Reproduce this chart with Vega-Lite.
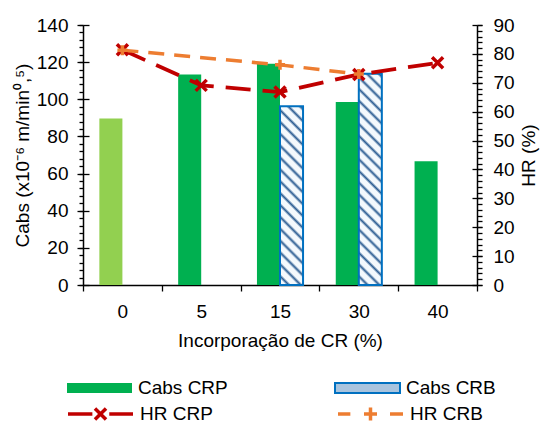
{
  "$schema": "https://vega.github.io/schema/vega-lite/v6.json",
  "width": 394,
  "height": 260,
  "autosize": "none",
  "padding": {"left": 83, "top": 25, "right": 66, "bottom": 139},
  "background": "white",
  "datasets": {
    "bars": [
      {"cat": 0, "serie": "Cabs CRP", "cabs": 89.7},
      {"cat": 5, "serie": "Cabs CRP", "cabs": 113.4},
      {"cat": 15, "serie": "Cabs CRP", "cabs": 119.1},
      {"cat": 15, "serie": "Cabs CRB", "cabs": 96.2},
      {"cat": 30, "serie": "Cabs CRP", "cabs": 98.5},
      {"cat": 30, "serie": "Cabs CRB", "cabs": 113.7},
      {"cat": 40, "serie": "Cabs CRP", "cabs": 66.6}
    ],
    "hr": [
      {"cat": 0, "serie": "HR CRP", "hr": 81.4},
      {"cat": 5, "serie": "HR CRP", "hr": 69.1},
      {"cat": 15, "serie": "HR CRP", "hr": 66.8},
      {"cat": 30, "serie": "HR CRP", "hr": 72.9},
      {"cat": 40, "serie": "HR CRP", "hr": 76.9},
      {"cat": 0, "serie": "HR CRB", "hr": 81.3},
      {"cat": 15, "serie": "HR CRB", "hr": 76.2},
      {"cat": 30, "serie": "HR CRB", "hr": 73.0}
    ]
  },
  "encoding": {
    "x": {
      "field": "cat",
      "type": "ordinal",
      "scale": {"domain": [0, 5, 15, 30, 40], "paddingInner": 0, "paddingOuter": 0},
      "axis": {
        "title": "Incorporação de CR (%)",
        "tickBand": "extent",
        "tickSize": 6,
        "labelPadding": 11,
        "titlePadding": 10,
        "labelAngle": 0
      }
    }
  },
  "layer": [
    {
      "data": {"name": "bars"},
      "mark": {"type": "bar", "strokeWidth": 2},
      "encoding": {
        "xOffset": {"field": "serie", "type": "nominal", "scale": {"domain": ["Cabs CRP", "Cabs CRB"], "paddingOuter": 0.71, "paddingInner": 0}},
        "y": {
          "field": "cabs",
          "type": "quantitative",
          "scale": {"domain": [0, 140], "nice": false},
          "axis": {"orient": "left", "values": [0, 20, 40, 60, 80, 100, 120, 140], "tickSize": 6, "labelPadding": 9, "title": "Cabs (x10⁻⁶ m/min⁰,⁵)", "titlePadding": 4}
        },
        "fill": {
          "field": "serie",
          "type": "nominal",
          "scale": {"domain": ["Cabs CRP", "Cabs CRB"], "range": ["#00B050", "#A9C4DE"]},
          "legend": {
            "title": null,
            "orient": "none",
            "direction": "horizontal",
            "legendX": -17,
            "legendY": 353,
            "columns": 2,
            "symbolType": "M-1,-0.155H1V0.155H-1Z",
            "symbolSize": 4225,
            "symbolStrokeWidth": 2,
            "clipHeight": 20,
            "columnPadding": 106,
            "labelOffset": 5,
            "labelFont": "Liberation Sans",
            "labelFontSize": 19,
            "labelColor": "#000000"
          },
          "condition": [
            {"test": "datum.cat === 0", "value": "#92D050"},
            {"test": "datum.serie === 'Cabs CRB' && datum.cat === 15", "value": {"gradient": "linear", "x1": 0, "y1": 1, "x2": 0.1433, "y2": -0.1105, "stops": [
              {"offset": 0, "color": "#F4F9FD"}, {"offset": 0.0294, "color": "#F4F9FD"}, {"offset": 0.0441, "color": "#2B5C92"},
              {"offset": 0.0588, "color": "#F4F9FD"}, {"offset": 0.0882, "color": "#F4F9FD"}, {"offset": 0.1029, "color": "#2B5C92"},
              {"offset": 0.1176, "color": "#F4F9FD"}, {"offset": 0.1471, "color": "#F4F9FD"}, {"offset": 0.1618, "color": "#2B5C92"},
              {"offset": 0.1765, "color": "#F4F9FD"}, {"offset": 0.2059, "color": "#F4F9FD"}, {"offset": 0.2206, "color": "#2B5C92"},
              {"offset": 0.2353, "color": "#F4F9FD"}, {"offset": 0.2647, "color": "#F4F9FD"}, {"offset": 0.2794, "color": "#2B5C92"},
              {"offset": 0.2941, "color": "#F4F9FD"}, {"offset": 0.3235, "color": "#F4F9FD"}, {"offset": 0.3382, "color": "#2B5C92"},
              {"offset": 0.3529, "color": "#F4F9FD"}, {"offset": 0.3824, "color": "#F4F9FD"}, {"offset": 0.3971, "color": "#2B5C92"},
              {"offset": 0.4118, "color": "#F4F9FD"}, {"offset": 0.4412, "color": "#F4F9FD"}, {"offset": 0.4559, "color": "#2B5C92"},
              {"offset": 0.4706, "color": "#F4F9FD"}, {"offset": 0.5, "color": "#F4F9FD"}, {"offset": 0.5147, "color": "#2B5C92"},
              {"offset": 0.5294, "color": "#F4F9FD"}, {"offset": 0.5588, "color": "#F4F9FD"}, {"offset": 0.5735, "color": "#2B5C92"},
              {"offset": 0.5882, "color": "#F4F9FD"}, {"offset": 0.6176, "color": "#F4F9FD"}, {"offset": 0.6324, "color": "#2B5C92"},
              {"offset": 0.6471, "color": "#F4F9FD"}, {"offset": 0.6765, "color": "#F4F9FD"}, {"offset": 0.6912, "color": "#2B5C92"},
              {"offset": 0.7059, "color": "#F4F9FD"}, {"offset": 0.7353, "color": "#F4F9FD"}, {"offset": 0.75, "color": "#2B5C92"},
              {"offset": 0.7647, "color": "#F4F9FD"}, {"offset": 0.7941, "color": "#F4F9FD"}, {"offset": 0.8088, "color": "#2B5C92"},
              {"offset": 0.8235, "color": "#F4F9FD"}, {"offset": 0.8529, "color": "#F4F9FD"}, {"offset": 0.8676, "color": "#2B5C92"},
              {"offset": 0.8824, "color": "#F4F9FD"}, {"offset": 0.9118, "color": "#F4F9FD"}, {"offset": 0.9265, "color": "#2B5C92"},
              {"offset": 0.9412, "color": "#F4F9FD"}, {"offset": 0.9706, "color": "#F4F9FD"}, {"offset": 0.9853, "color": "#2B5C92"},
              {"offset": 1, "color": "#F4F9FD"}
            ]}},
            {"test": "datum.serie === 'Cabs CRB' && datum.cat === 30", "value": {"gradient": "linear", "x1": 0, "y1": 1, "x2": 0.119, "y2": -0.0957, "stops": [
              {"offset": 0, "color": "#F4F9FD"}, {"offset": 0.025, "color": "#F4F9FD"}, {"offset": 0.0375, "color": "#2B5C92"},
              {"offset": 0.05, "color": "#F4F9FD"}, {"offset": 0.075, "color": "#F4F9FD"}, {"offset": 0.0875, "color": "#2B5C92"},
              {"offset": 0.1, "color": "#F4F9FD"}, {"offset": 0.125, "color": "#F4F9FD"}, {"offset": 0.1375, "color": "#2B5C92"},
              {"offset": 0.15, "color": "#F4F9FD"}, {"offset": 0.175, "color": "#F4F9FD"}, {"offset": 0.1875, "color": "#2B5C92"},
              {"offset": 0.2, "color": "#F4F9FD"}, {"offset": 0.225, "color": "#F4F9FD"}, {"offset": 0.2375, "color": "#2B5C92"},
              {"offset": 0.25, "color": "#F4F9FD"}, {"offset": 0.275, "color": "#F4F9FD"}, {"offset": 0.2875, "color": "#2B5C92"},
              {"offset": 0.3, "color": "#F4F9FD"}, {"offset": 0.325, "color": "#F4F9FD"}, {"offset": 0.3375, "color": "#2B5C92"},
              {"offset": 0.35, "color": "#F4F9FD"}, {"offset": 0.375, "color": "#F4F9FD"}, {"offset": 0.3875, "color": "#2B5C92"},
              {"offset": 0.4, "color": "#F4F9FD"}, {"offset": 0.425, "color": "#F4F9FD"}, {"offset": 0.4375, "color": "#2B5C92"},
              {"offset": 0.45, "color": "#F4F9FD"}, {"offset": 0.475, "color": "#F4F9FD"}, {"offset": 0.4875, "color": "#2B5C92"},
              {"offset": 0.5, "color": "#F4F9FD"}, {"offset": 0.525, "color": "#F4F9FD"}, {"offset": 0.5375, "color": "#2B5C92"},
              {"offset": 0.55, "color": "#F4F9FD"}, {"offset": 0.575, "color": "#F4F9FD"}, {"offset": 0.5875, "color": "#2B5C92"},
              {"offset": 0.6, "color": "#F4F9FD"}, {"offset": 0.625, "color": "#F4F9FD"}, {"offset": 0.6375, "color": "#2B5C92"},
              {"offset": 0.65, "color": "#F4F9FD"}, {"offset": 0.675, "color": "#F4F9FD"}, {"offset": 0.6875, "color": "#2B5C92"},
              {"offset": 0.7, "color": "#F4F9FD"}, {"offset": 0.725, "color": "#F4F9FD"}, {"offset": 0.7375, "color": "#2B5C92"},
              {"offset": 0.75, "color": "#F4F9FD"}, {"offset": 0.775, "color": "#F4F9FD"}, {"offset": 0.7875, "color": "#2B5C92"},
              {"offset": 0.8, "color": "#F4F9FD"}, {"offset": 0.825, "color": "#F4F9FD"}, {"offset": 0.8375, "color": "#2B5C92"},
              {"offset": 0.85, "color": "#F4F9FD"}, {"offset": 0.875, "color": "#F4F9FD"}, {"offset": 0.8875, "color": "#2B5C92"},
              {"offset": 0.9, "color": "#F4F9FD"}, {"offset": 0.925, "color": "#F4F9FD"}, {"offset": 0.9375, "color": "#2B5C92"},
              {"offset": 0.95, "color": "#F4F9FD"}, {"offset": 0.975, "color": "#F4F9FD"}, {"offset": 0.9875, "color": "#2B5C92"},
              {"offset": 1, "color": "#F4F9FD"}
            ]}}
          ]
        },
        "stroke": {
          "field": "serie",
          "type": "nominal",
          "scale": {"domain": ["Cabs CRP", "Cabs CRB"], "range": ["transparent", "#0070C0"]},
          "legend": {
            "title": null,
            "orient": "none",
            "direction": "horizontal",
            "legendX": -17,
            "legendY": 353,
            "columns": 2,
            "symbolType": "M-1,-0.155H1V0.155H-1Z",
            "symbolSize": 4225,
            "symbolStrokeWidth": 2,
            "clipHeight": 20,
            "columnPadding": 106,
            "labelOffset": 5,
            "labelFont": "Liberation Sans",
            "labelFontSize": 19,
            "labelColor": "#000000"
          }
        }
      }
    },
    {
      "data": {"name": "bars"},
      "mark": {"type": "bar", "opacity": 0},
      "encoding": {
        "xOffset": {"field": "serie", "type": "nominal", "scale": {"domain": ["Cabs CRP", "Cabs CRB"], "paddingOuter": 0.71, "paddingInner": 0}},
        "y": {
          "field": "cabs",
          "type": "quantitative",
          "scale": {"domain": [0, 140], "nice": false},
          "axis": {"orient": "left", "values": [0, 4, 8, 12, 16, 20, 24, 28, 32, 36, 40, 44, 48, 52, 56, 60, 64, 68, 72, 76, 80, 84, 88, 92, 96, 100, 104, 108, 112, 116, 120, 124, 128, 132, 136, 140], "tickSize": 4, "labels": false, "domain": false, "title": null}
        }
      }
    },
    {
      "data": {"name": "bars"},
      "mark": {"type": "bar", "opacity": 0},
      "encoding": {
        "xOffset": {"field": "serie", "type": "nominal", "scale": {"domain": ["Cabs CRP", "Cabs CRB"], "paddingOuter": 0.71, "paddingInner": 0}},
        "y": {
          "field": "cabs",
          "type": "quantitative",
          "scale": {"domain": [0, 140], "nice": false},
          "axis": {"orient": "left", "values": [0, 20, 40, 60, 80, 100, 120, 140], "tickSize": -6, "labels": false, "domain": false, "title": null}
        }
      }
    },
    {
      "data": {"name": "hr"},
      "transform": [{"filter": "datum.serie === 'HR CRP'"}],
      "mark": {"type": "line", "stroke": "#C00000", "strokeWidth": 3.8, "strokeDash": [25, 12]},
      "encoding": {
        "y": {
          "field": "hr",
          "type": "quantitative",
          "scale": {"domain": [0, 90], "nice": false},
          "axis": {"orient": "right", "values": [0, 10, 20, 30, 40, 50, 60, 70, 80, 90], "tickSize": 5, "labelPadding": 11, "title": "HR (%)", "titleAngle": 270, "titleBaseline": "top", "titlePadding": 5}
        }
      }
    },
    {
      "data": {"name": "hr"},
      "transform": [{"filter": "datum.serie === 'HR CRB'"}],
      "mark": {"type": "line", "stroke": "#ED7D31", "strokeWidth": 3.5, "strokeDash": [16, 10]},
      "encoding": {
        "y": {"field": "hr", "type": "quantitative", "scale": {"domain": [0, 90], "nice": false}, "axis": null}
      }
    },
    {
      "data": {"name": "hr"},
      "transform": [{"filter": "datum.serie === 'HR CRP'"}],
      "mark": {"type": "point", "shape": "M-1,-1L1,1M-1,1L1,-1", "size": 121, "filled": false, "stroke": "#C00000", "strokeWidth": 3.5, "opacity": 1},
      "encoding": {
        "y": {
          "field": "hr",
          "type": "quantitative",
          "scale": {"domain": [0, 90], "nice": false},
          "axis": {"orient": "right", "values": [0, 2, 4, 6, 8, 10, 12, 14, 16, 18, 20, 22, 24, 26, 28, 30, 32, 34, 36, 38, 40, 42, 44, 46, 48, 50, 52, 54, 56, 58, 60, 62, 64, 66, 68, 70, 72, 74, 76, 78, 80, 82, 84, 86, 88, 90], "tickSize": 5, "labels": false, "domain": false, "title": null}
        }
      }
    },
    {
      "data": {"name": "hr"},
      "transform": [{"filter": "datum.serie === 'HR CRB'"}],
      "mark": {"type": "point", "shape": "M-1,0H1M0,-1V1", "size": 100, "filled": false, "stroke": "#ED7D31", "strokeWidth": 3.5, "opacity": 1},
      "encoding": {
        "y": {
          "field": "hr",
          "type": "quantitative",
          "scale": {"domain": [0, 90], "nice": false},
          "axis": {"orient": "right", "values": [0, 10, 20, 30, 40, 50, 60, 70, 80, 90], "tickSize": -5, "labels": false, "domain": false, "title": null}
        }
      }
    },
    {
      "data": {"name": "hr"},
      "mark": {"type": "point", "filled": false, "size": 0, "strokeWidth": 3.5},
      "encoding": {
        "y": {"field": "hr", "type": "quantitative", "scale": {"domain": [0, 90], "nice": false}, "axis": null},
        "color": {
          "field": "serie",
          "type": "nominal",
          "scale": {"domain": ["HR CRP", "HR CRB"], "range": ["#C00000", "#ED7D31"]},
          "legend": {
            "title": null,
            "orient": "none",
            "direction": "horizontal",
            "legendX": -17,
            "legendY": 379,
            "columns": 2,
            "symbolSize": 4225,
            "symbolStrokeWidth": 3.5,
            "symbolOpacity": 1,
            "symbolFillColor": "transparent",
            "clipHeight": 20,
            "columnPadding": 123,
            "labelOffset": 5,
            "labelFont": "Liberation Sans",
            "labelFontSize": 19,
            "labelColor": "#000000"
          }
        },
        "shape": {
          "field": "serie",
          "type": "nominal",
          "scale": {
            "domain": ["HR CRP", "HR CRB"],
            "range": [
              "M-1,0H-0.25M0.27,0H1M-0.17,-0.17L0.17,0.17M-0.17,0.17L0.17,-0.17",
              "M-1,0H-0.62M0.6,0H1M-0.2,0H0.2M0,-0.2V0.2"
            ]
          },
          "legend": {
            "title": null,
            "orient": "none",
            "direction": "horizontal",
            "legendX": -17,
            "legendY": 379,
            "columns": 2,
            "symbolSize": 4225,
            "symbolStrokeWidth": 3.5,
            "symbolOpacity": 1,
            "symbolFillColor": "transparent",
            "clipHeight": 20,
            "columnPadding": 123,
            "labelOffset": 5,
            "labelFont": "Liberation Sans",
            "labelFontSize": 19,
            "labelColor": "#000000"
          }
        }
      }
    }
  ],
  "resolve": {"scale": {"y": "independent"}, "axis": {"y": "independent"}},
  "config": {
    "font": "Liberation Sans",
    "view": {"stroke": null},
    "axis": {
      "labelFont": "Liberation Sans",
      "labelFontSize": 19,
      "labelColor": "#000000",
      "titleFont": "Liberation Sans",
      "titleFontSize": 19,
      "titleFontWeight": "normal",
      "titleColor": "#000000",
      "domainColor": "#000000",
      "tickColor": "#000000",
      "domainWidth": 1.5,
      "tickWidth": 1.3,
      "grid": false
    }
  }
}
